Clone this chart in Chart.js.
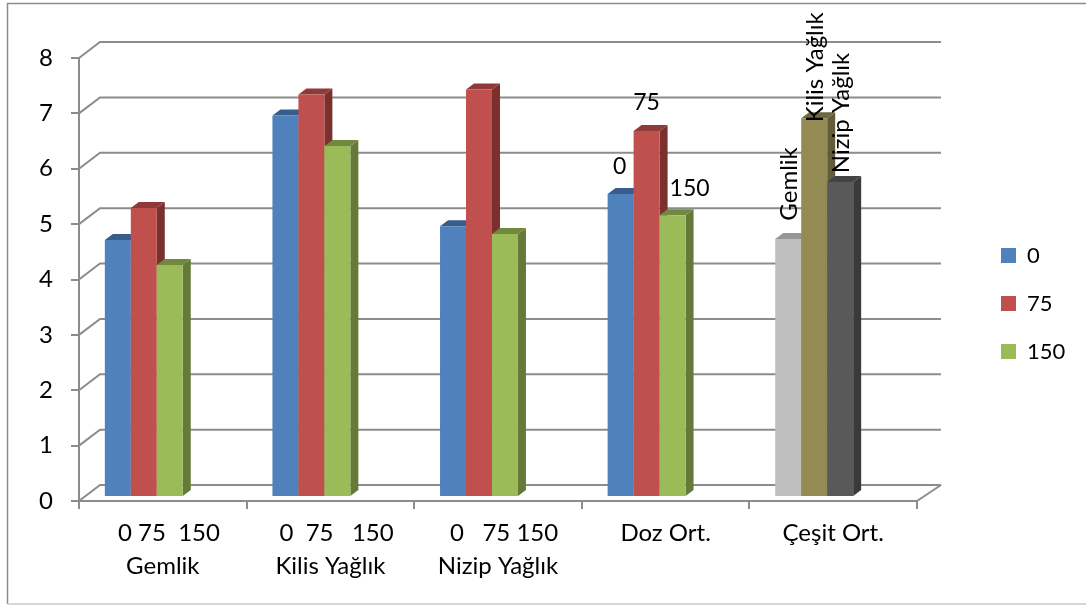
<!DOCTYPE html>
<html>
<head>
<meta charset="utf-8">
<style>
  html, body { margin: 0; padding: 0; background: #fff; }
  #chart { display: block; }
</style>
<script src="https://cdn.jsdelivr.net/npm/chart.js@4/dist/chart.umd.min.js"></script>
</head>
<body>
<div style="width:1086px;height:605px"><canvas id="chart"></canvas></div>
<script>
const categories = [
  ["  0 75  150", "Gemlik"],
  ["  0  75   150", "Kilis Yağlık"],
  ["  0   75 150", "Nizip Yağlık"],
  "Doz Ort.",
  "Çeşit Ort.",
];
const seriesNames = ["0", "75", "150"];
const values0 = [4.64, 6.89, 4.89, 5.47, 4.66];
const values75 = [5.22, 7.27, 7.36, 6.61, 6.84];
const values150 = [4.19, 6.34, 4.75, 5.09, 5.69];
const cultivarNames = ["Gemlik", "Kilis Yağlık", "Nizip Yağlık"];

const FONT = "Lato, sans-serif";
const GREY = "#8c8c8c";
const front = ["#4F81BD", "#C0504D", "#9BBB59"];
const side = ["#3A6190", "#7B302E", "#657A39"];
const top3d = ["#385D8A", "#8F3A38", "#71893F"];
const frontLast = ["#BFBFBF", "#948A54", "#595959"];
const sideLast = ["#8f8f8f", "#625C38", "#3A3A3A"];
const topLast = ["#969696", "#6F673F", "#434343"];

// offset of the bars from the front of the box
const shiftX = -19;
const shiftY = -4;
const depthX = 8;
const depthY = 6;

function poly(ctx, pts, color) {
  ctx.fillStyle = color;
  ctx.beginPath();
  pts.forEach((p, i) => (i ? ctx.lineTo(p[0], p[1]) : ctx.moveTo(p[0], p[1])));
  ctx.closePath();
  ctx.fill();
}

const box3d = {
  id: "box3d",
  beforeLayout(chart) {
    const leg = chart.legend;
    if (leg && !leg.patched) {
      const fit = leg.fit;
      leg.fit = function () {
        fit.call(this);
        this.width = 169;
      };
      leg.patched = true;
    }
  },
  afterLayout(chart) {
    const leg = chart.legend;
    const pad = leg.options.labels.padding;
    leg.left = 1001 - pad;
    leg.right = leg.left + 169;
    leg.top -= 28;
    leg.bottom -= 28;
  },
  beforeDraw(chart) {
    const ctx = chart.ctx;
    ctx.save();
    ctx.fillStyle = "#fff";
    ctx.fillRect(0, 0, chart.width, chart.height);
    // outer frame, no right side
    ctx.strokeStyle = GREY;
    ctx.lineWidth = 1.5;
    ctx.beginPath();
    ctx.moveTo(1086, 3.5);
    ctx.lineTo(7.5, 3.5);
    ctx.lineTo(7.5, 604);
    ctx.stroke();
    ctx.strokeStyle = "#c8c8c8";
    ctx.beginPath();
    ctx.moveTo(7.5, 604);
    ctx.lineTo(1086, 604);
    ctx.stroke();
    ctx.restore();
  },
  beforeDatasetsDraw(chart) {
    const ctx = chart.ctx;
    const area = chart.chartArea;
    const y = chart.scales.y;
    ctx.save();
    // back wall lines
    ctx.strokeStyle = GREY;
    ctx.lineWidth = 2;
    y.ticks.forEach((t) => {
      const py = y.getPixelForValue(t.value);
      ctx.beginPath();
      ctx.moveTo(area.left, py);
      ctx.lineTo(area.left + 21, py - 16);
      ctx.lineTo(area.right + 24, py - 16);
      ctx.stroke();
    });
    ctx.beginPath();
    ctx.moveTo(area.right, area.bottom);
    ctx.lineTo(area.right + 24, area.bottom - 16);
    ctx.stroke();

    // bars, left to right so the later ones overlap the sides
    ctx.translate(shiftX, shiftY);
    for (let d = 0; d < chart.data.datasets.length; d++) {
      chart.getDatasetMeta(d).data.forEach((el, i) => {
        const p = el.getProps(["x", "y", "base", "width"], true);
        const l = p.x - p.width / 2;
        const r = p.x + p.width / 2;
        const last = i === categories.length - 1;
        poly(ctx, [[r, p.y], [r + depthX, p.y - depthY], [r + depthX, p.base - depthY], [r, p.base]], last ? sideLast[d] : side[d]);
        poly(ctx, [[l, p.y], [l + depthX, p.y - depthY], [r + depthX, p.y - depthY], [r, p.y]], last ? topLast[d] : top3d[d]);
        el.draw(ctx, area);
      });
    }
    ctx.restore();
  },
  beforeDatasetDraw() {
    return false;
  },
  afterDatasetsDraw(chart) {
    const ctx = chart.ctx;
    ctx.save();
    ctx.fillStyle = "#000";
    ctx.textAlign = "center";
    ctx.textBaseline = "middle";
    // dose labels over the Doz Ort. bars
    ctx.font = "23px " + FONT;
    const doseOffsets = [[-1, -28], [0, -28], [17, -27]];
    seriesNames.forEach((name, d) => {
      const el = chart.getDatasetMeta(d).data[3];
      ctx.fillText(name, el.x + shiftX + doseOffsets[d][0], el.y + shiftY + doseOffsets[d][1]);
    });
    // rotated cultivar labels over the Çeşit Ort. bars
    ctx.font = "24px " + FONT;
    const cultivarOffsets = [-55, -51, -69];
    cultivarNames.forEach((name, d) => {
      const el = chart.getDatasetMeta(d).data[4];
      ctx.save();
      ctx.translate(el.x + shiftX + 1, el.y + shiftY + cultivarOffsets[d]);
      ctx.rotate(-Math.PI / 2);
      ctx.fillText(name, 0, 0);
      ctx.restore();
    });
    ctx.restore();
  },
};

function barSet(i, values) {
  return {
    label: seriesNames[i],
    data: values,
    backgroundColor: (c) => (c.dataIndex === 4 ? frontLast[i] : front[i]),
    borderWidth: 0,
  };
}

new Chart(document.getElementById("chart"), {
  type: "bar",
  data: {
    labels: categories,
    datasets: [barSet(0, values0), barSet(1, values75), barSet(2, values150)],
  },
  plugins: [box3d],
  options: {
    responsive: true,
    maintainAspectRatio: false,
    animation: false,
    devicePixelRatio: 1,
    layout: { padding: { top: 58, left: 0, right: 0, bottom: 0 } },
    datasets: { bar: { barPercentage: 1, categoryPercentage: 0.465 } },
    plugins: {
      tooltip: { enabled: false },
      legend: {
        position: "right",
        labels: {
          boxWidth: 15,
          boxHeight: 15,
          padding: 26,
          color: "#000",
          font: { family: FONT, size: 22 },
        },
      },
    },
    scales: {
      x: {
        afterFit(s) { s.height = 104; },
        border: { color: GREY, width: 2 },
        grid: { drawOnChartArea: false, color: GREY, lineWidth: 2, tickLength: 8 },
        ticks: {
          color: "#000",
          padding: 8,
          maxRotation: 0,
          autoSkip: false,
          font: { family: FONT, size: 24, lineHeight: 1.38 },
        },
      },
      y: {
        afterFit(s) { s.width = 79; },
        min: 0,
        max: 8,
        border: { color: GREY, width: 2 },
        grid: { drawOnChartArea: false, color: GREY, lineWidth: 2, tickLength: 8 },
        ticks: {
          stepSize: 1,
          color: "#000",
          padding: 18,
          font: { family: FONT, size: 24 },
        },
      },
    },
  },
});
</script>
</body>
</html>
